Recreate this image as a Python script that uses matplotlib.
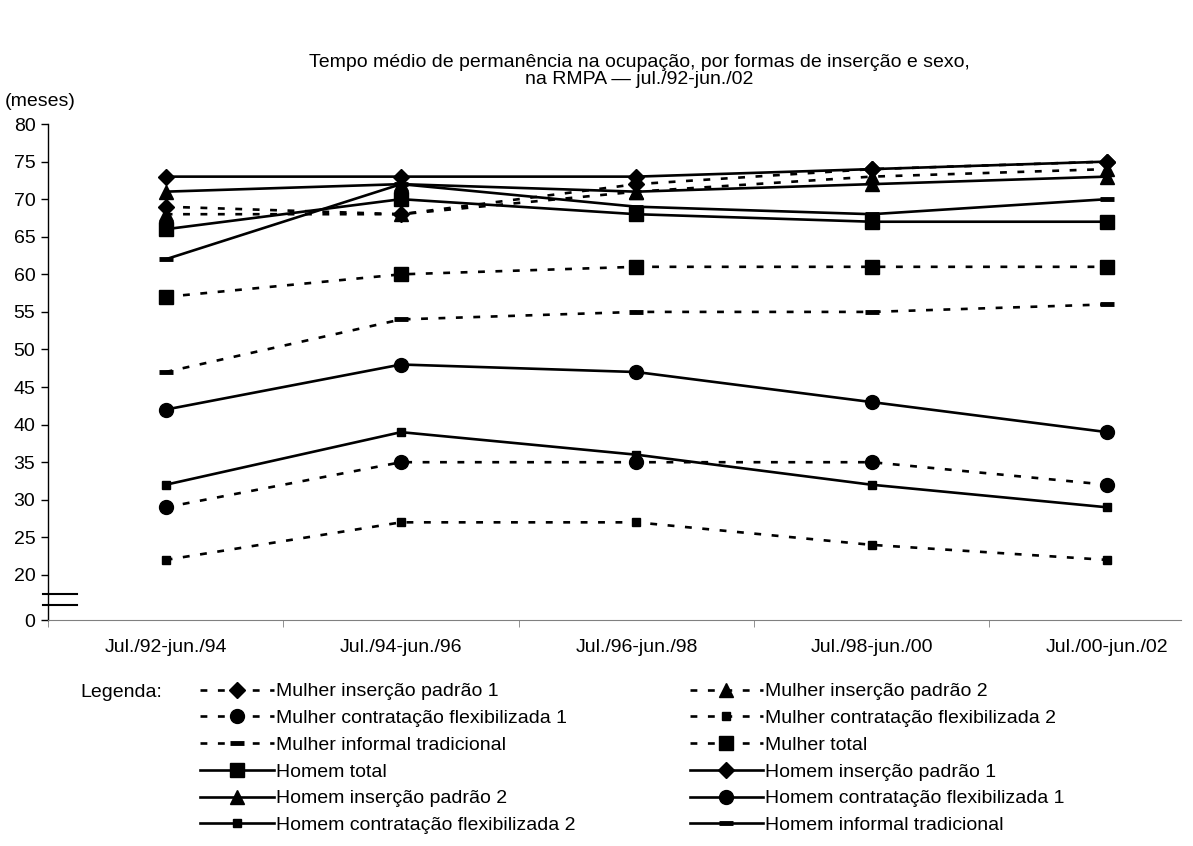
import matplotlib.pyplot as plt
import matplotlib.transforms as mtransforms

plt.rcParams['font.family'] = ['Liberation Sans', 'DejaVu Sans']

# dados (meses)
periodos = ['Jul./92-jun./94', 'Jul./94-jun./96', 'Jul./96-jun./98',
            'Jul./98-jun./00', 'Jul./00-jun./02']

mulher_padrao1 = [69, 68, 72, 74, 75]
mulher_padrao2 = [68, 68, 71, 73, 74]
mulher_flex1 = [29, 35, 35, 35, 32]
mulher_flex2 = [22, 27, 27, 24, 22]
mulher_informal = [47, 54, 55, 55, 56]
mulher_total = [57, 60, 61, 61, 61]
homem_total = [66, 70, 68, 67, 67]
homem_padrao1 = [73, 73, 73, 74, 75]
homem_padrao2 = [71, 72, 71, 72, 73]
homem_flex1 = [42, 48, 47, 43, 39]
homem_flex2 = [32, 39, 36, 32, 29]
homem_informal = [62, 72, 69, 68, 70]

DASH = (0, (2.6, 4.0))

# label, values, linestyle, marker, markersize, markeredgewidth
series = [
    ('Mulher inserção padrão 1', mulher_padrao1, DASH, 'D', 8, 1),
    ('Mulher inserção padrão 2', mulher_padrao2, DASH, '^', 10, 1),
    ('Mulher contratação flexibilizada 1', mulher_flex1, DASH, 'o', 10, 1),
    ('Mulher contratação flexibilizada 2', mulher_flex2, DASH, 's', 6, 1),
    ('Mulher informal tradicional', mulher_informal, DASH, '_', 10, 3.5),
    ('Mulher total', mulher_total, DASH, 's', 10.5, 1),
    ('Homem total', homem_total, '-', 's', 10.5, 1),
    ('Homem inserção padrão 1', homem_padrao1, '-', 'D', 8, 1),
    ('Homem inserção padrão 2', homem_padrao2, '-', '^', 10, 1),
    ('Homem contratação flexibilizada 1', homem_flex1, '-', 'o', 10, 1),
    ('Homem contratação flexibilizada 2', homem_flex2, '-', 's', 6, 1),
    ('Homem informal tradicional', homem_informal, '-', '_', 10, 3.5),
]

fig = plt.figure(figsize=(11.93, 8.46), dpi=100)
ax = fig.add_axes([0.0402, 0.2671, 0.9498, 0.5863])

x = list(range(len(periodos)))
handles = {}
for label, vals, ls, mk, ms, mew in series:
    line, = ax.plot(x, vals, color='black', linestyle=ls, linewidth=1.9,
                    marker=mk, markersize=ms, markerfacecolor='black',
                    markeredgecolor='black', markeredgewidth=mew,
                    label=label, clip_on=False)
    handles[label] = line

ax.set_xlim(-0.5, 4.314)
ax.set_ylim(14, 80)
yt = [14] + list(range(20, 81, 5))
ax.set_yticks(yt)
ax.set_yticklabels(['0'] + [str(v) for v in range(20, 81, 5)], fontsize=14)
ax.set_xticks(x)
ax.set_xticklabels(periodos, fontsize=14)
ax.set_xticks([-0.5, 0.5, 1.5, 2.5, 3.5], minor=True)
ax.tick_params(axis='x', which='major', length=0, pad=14)
ax.tick_params(axis='x', which='minor', length=5, direction='out', color='#808080')
ax.tick_params(axis='y', length=5, direction='out', width=1, pad=4)

ax.spines['top'].set_visible(False)
ax.spines['right'].set_visible(False)
ax.spines['bottom'].set_color('#808080')
ax.spines['left'].set_linewidth(1)

# quebra do eixo
trans = mtransforms.blended_transform_factory(ax.transAxes, ax.transData)
for yb in (17.4, 16.0):
    ax.plot([-0.0044, 0.0256], [yb, yb], color='black', linewidth=1.5,
            transform=trans, clip_on=False)

fig.text(0.536, 0.916, 'Tempo médio de permanência na ocupação, por formas de inserção e sexo,\n'
         'na RMPA — jul./92-jun./02', ha='center', va='center', fontsize=14,
         linespacing=1.05)
fig.text(0.004, 0.880, '(meses)', ha='left', va='center', fontsize=14)

# legenda em duas colunas (preenchida por linha)
order_left = ['Mulher inserção padrão 1', 'Mulher contratação flexibilizada 1',
              'Mulher informal tradicional', 'Homem total',
              'Homem inserção padrão 2', 'Homem contratação flexibilizada 2']
order_right = ['Mulher inserção padrão 2', 'Mulher contratação flexibilizada 2',
               'Mulher total', 'Homem inserção padrão 1',
               'Homem contratação flexibilizada 1', 'Homem informal tradicional']
labels = order_left + order_right
leg = fig.legend([handles[l] for l in labels], labels, ncol=2,
                 loc='upper left', bbox_to_anchor=(0.168, 0.193),
                 frameon=False, fontsize=14, handlelength=3.8,
                 handletextpad=0.1, columnspacing=5.85, labelspacing=0.47,
                 borderaxespad=0, borderpad=0)
fig.text(0.067, 0.182, 'Legenda:', ha='left', va='center', fontsize=14)

fig.savefig('out.png', dpi=100)
